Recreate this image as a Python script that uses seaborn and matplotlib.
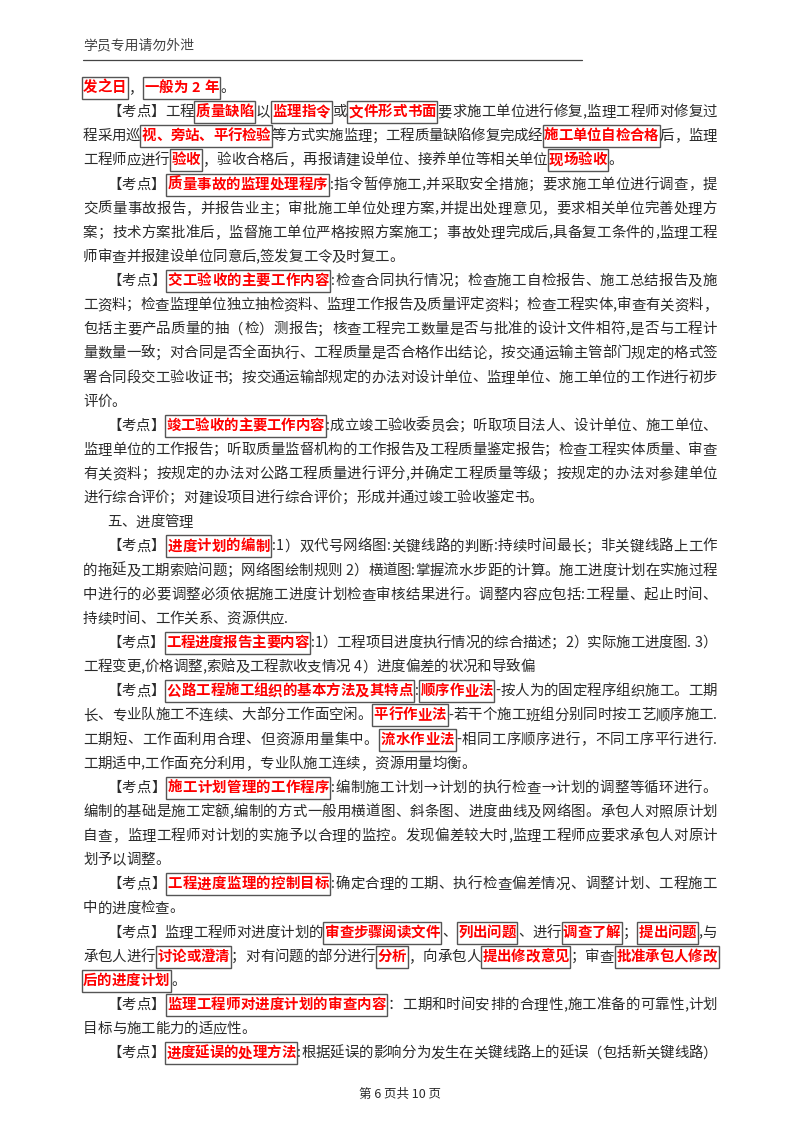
import matplotlib
matplotlib.use('Agg')
import matplotlib.pyplot as plt
import seaborn as sns
from matplotlib.patches import Rectangle

sns.set_theme(style='white')
plt.rcParams['font.family'] = ['Noto Sans CJK SC', 'DejaVu Sans']

header = '学员专用请勿外泄'
footer = '第 6 页共 10 页'

# {..} 为红色加框重点; 第二列: 是否首行缩进; 第三列: 是否两端对齐
lines = [
    ('{发之日}，{一般为 2 年}。', 0, 0),
    ('【考点】工程{质量缺陷}以{监理指令}或{文件形式书面}要求施工单位进行修复,监理工程师对修复过', 1, 1),
    ('程采用巡{视、旁站、平行检验}等方式实施监理；工程质量缺陷修复完成经{施工单位自检合格}后，监理', 0, 1),
    ('工程师应进行{验收}，验收合格后，再报请建设单位、接养单位等相关单位{现场验收}。', 0, 0),
    ('【考点】{质量事故的监理处理程序}:指令暂停施工,并采取安全措施；要求施工单位进行调查，提', 1, 1),
    ('交质量事故报告，并报告业主；审批施工单位处理方案,并提出处理意见，要求相关单位完善处理方', 0, 1),
    ('案；技术方案批准后，监督施工单位严格按照方案施工；事故处理完成后,具备复工条件的,监理工程', 0, 1),
    ('师审查并报建设单位同意后,签发复工令及时复工。', 0, 0),
    ('【考点】{交工验收的主要工作内容}:检查合同执行情况；检查施工自检报告、施工总结报告及施', 1, 1),
    ('工资料；检查监理单位独立抽检资料、监理工作报告及质量评定资料；检查工程实体,审查有关资料，', 0, 1),
    ('包括主要产品质量的抽（检）测报告；核查工程完工数量是否与批准的设计文件相符,是否与工程计', 0, 1),
    ('量数量一致；对合同是否全面执行、工程质量是否合格作出结论，按交通运输主管部门规定的格式签', 0, 1),
    ('署合同段交工验收证书；按交通运输部规定的办法对设计单位、监理单位、施工单位的工作进行初步', 0, 1),
    ('评价。', 0, 0),
    ('【考点】{竣工验收的主要工作内容}:成立竣工验收委员会；听取项目法人、设计单位、施工单位、', 1, 1),
    ('监理单位的工作报告；听取质量监督机构的工作报告及工程质量鉴定报告；检查工程实体质量、审查', 0, 1),
    ('有关资料；按规定的办法对公路工程质量进行评分,并确定工程质量等级；按规定的办法对参建单位', 0, 1),
    ('进行综合评价；对建设项目进行综合评价；形成并通过竣工验收鉴定书。', 0, 0),
    ('五、进度管理', 1, 0),
    ('【考点】{进度计划的编制}:1）双代号网络图:关键线路的判断:持续时间最长；非关键线路上工作', 1, 1),
    ('的拖延及工期索赔问题；网络图绘制规则 2）横道图:掌握流水步距的计算。施工进度计划在实施过程', 0, 1),
    ('中进行的必要调整必须依据施工进度计划检查审核结果进行。调整内容应包括:工程量、起止时间、', 0, 1),
    ('持续时间、工作关系、资源供应.', 0, 0),
    ('【考点】{工程进度报告主要内容}:1）工程项目进度执行情况的综合描述；2）实际施工进度图. 3）', 1, 1),
    ('工程变更,价格调整,索赔及工程款收支情况 4）进度偏差的状况和导致偏', 0, 0),
    ('【考点】{公路工程施工组织的基本方法及其特点}:{顺序作业法}-按人为的固定程序组织施工。工期', 1, 1),
    ('长、专业队施工不连续、大部分工作面空闲。{平行作业法}-若干个施工班组分别同时按工艺顺序施工.', 0, 1),
    ('工期短、工作面利用合理、但资源用量集中。{流水作业法}-相同工序顺序进行，不同工序平行进行.', 0, 1),
    ('工期适中,工作面充分利用，专业队施工连续，资源用量均衡。', 0, 0),
    ('【考点】{施工计划管理的工作程序}:编制施工计划→计划的执行检查→计划的调整等循环进行。', 1, 1),
    ('编制的基础是施工定额,编制的方式一般用横道图、斜条图、进度曲线及网络图。承包人对照原计划', 0, 1),
    ('自查，监理工程师对计划的实施予以合理的监控。发现偏差较大时,监理工程师应要求承包人对原计', 0, 1),
    ('划予以调整。', 0, 0),
    ('【考点】{工程进度监理的控制目标}:确定合理的工期、执行检查偏差情况、调整计划、工程施工', 1, 1),
    ('中的进度检查。', 0, 0),
    ('【考点】监理工程师对进度计划的{审查步骤阅读文件}、{列出问题}、进行{调查了解}；{提出问题},与', 1, 1),
    ('承包人进行{讨论或澄清}；对有问题的部分进行{分析}，向承包人{提出修改意见}；审查{批准承包人修改}', 0, 1),
    ('{后的进度计划}。', 0, 0),
    ('【考点】{监理工程师对进度计划的审查内容}：工期和时间安排的合理性,施工准备的可靠性,计划', 1, 1),
    ('目标与施工能力的适应性。', 0, 0),
    ('【考点】{进度延误的处理方法}:根据延误的影响分为发生在关键线路上的延误（包括新关键线路）', 1, 1),
]

W, H = 800, 1132
fig = plt.figure(figsize=(8, 11.32), dpi=100)
ax = fig.add_axes([0, 0, 1, 1])
ax.set_xlim(0, W)
ax.set_ylim(H, 0)
ax.axis('off')
renderer = fig.canvas.get_renderer()

FS = 10.4
LEFT, RIGHT = 83, 717
TOP, STEP = 88, 24.13
PAD = 2.0
INK = '#2a2a2a'
cache = {}


def char_width(c, bold):
    key = (c, bold)
    if key not in cache:
        if c == ' ':
            cache[key] = 4.0
        else:
            t = ax.text(0, 0, c, fontsize=FS, fontweight='bold' if bold else 'normal')
            cache[key] = t.get_window_extent(renderer).width
            t.remove()
    return cache[key]


for i, (src, indent, justify) in enumerate(lines):
    y = TOP + STEP * i
    chars = []
    hl = False
    for c in src:
        if c == '{':
            hl = True
        elif c == '}':
            hl = False
        else:
            chars.append((c, hl))
    # extra room around each highlighted run
    pre = []
    for k, (c, h) in enumerate(chars):
        prev = chars[k - 1][1] if k > 0 else False
        nxt = chars[k + 1][1] if k + 1 < len(chars) else False
        p = 0.0
        if h and not prev and k > 0:
            p += PAD
        if k > 0 and chars[k - 1][1] and not h:
            p += PAD
        pre.append(p)
    widths = [char_width(c, h) for c, h in chars]
    x0 = LEFT + (24 if indent else 0)
    gap = 0.0
    if justify and len(chars) > 1:
        gap = (RIGHT - x0 - sum(widths) - sum(pre)) / (len(chars) - 1)
    x = x0
    box_start = None
    for k, ((c, h), w) in enumerate(zip(chars, widths)):
        x += pre[k]
        if h and box_start is None:
            box_start = x
        ax.text(x, y, c, fontsize=FS, va='center', ha='left',
                color='#ff0000' if h else INK,
                fontweight='bold' if h else 'normal')
        end = x + w
        x = end + gap
        nxt = chars[k + 1][1] if k + 1 < len(chars) else False
        if h and not nxt:
            ax.add_patch(Rectangle((box_start - 1.5, y - 11), end - box_start + 3, 22,
                                   fill=False, edgecolor='#555555', lw=1.0))
            box_start = None

ax.text(LEFT, 45, header, fontsize=10, va='center', ha='left', color='#444444')
ax.plot([LEFT, 582], [60, 60], color='#444444', lw=0.9)
ax.text(W / 2, 1094, footer, fontsize=9, va='center', ha='center', color=INK)

fig.savefig('out.png', dpi=100, facecolor='white')
